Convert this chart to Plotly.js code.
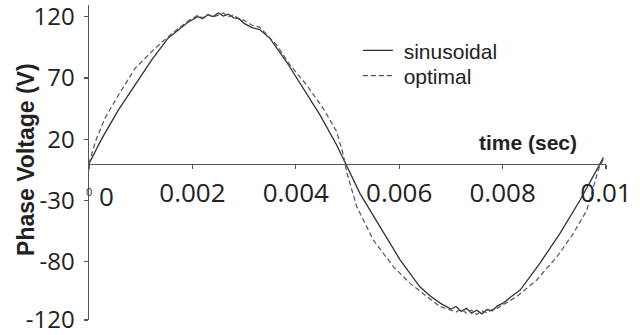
<!DOCTYPE html>
<html>
<head>
<meta charset="utf-8">
<script src="https://cdn.plot.ly/plotly-3.0.1.min.js"></script>
<style>
  html, body { margin: 0; padding: 0; background: #fff; }
  #chart { width: 640px; height: 335px; }
</style>
</head>
<body>
<div id="chart"></div>
<script>
// Sinusoidal reference waveform (time in s, voltage in V)
const timeSin = [0, 0.00025, 0.00057, 0.00089, 0.00121, 0.00153, 0.00175, 0.00190, 0.00200, 0.00210,
  0.00220, 0.00230, 0.00240, 0.00250, 0.00260, 0.00270, 0.00280, 0.00290, 0.00300, 0.00315,
  0.00330, 0.00350, 0.00382, 0.00415, 0.00447, 0.00479, 0.00497, 0.00524, 0.00563, 0.00602,
  0.00640, 0.00660, 0.00680, 0.00690, 0.00700, 0.00710, 0.00720, 0.00730, 0.00740, 0.00750,
  0.00760, 0.00770, 0.00780, 0.00790, 0.00800, 0.00815, 0.00834, 0.00872, 0.00911, 0.00950,
  0.00975, 0.00985, 0.00995];
const voltSin = [0, 20.7, 44.0, 64.2, 84.6, 102.4, 110, 115, 117.5, 120,
  118.5, 121.5, 120, 123, 120.5, 122, 119, 118.5, 114.5, 111,
  109.5, 102.3, 83.2, 61.5, 39.7, 15.3, 0, -24.2, -51.5, -78.6,
  -100.4, -108, -113.9, -116, -118.5, -116.5, -120.5, -118, -122, -119.5,
  -122.5, -119, -120, -116, -114, -109, -103.1, -81.3, -56.8, -29.6,
  -10.6, -2.4, 5];

// Optimal waveform
const timeOpt = [0, 0.00012, 0.00031, 0.00057, 0.00089, 0.00121, 0.00153, 0.00175, 0.00190, 0.00200,
  0.00210, 0.00220, 0.00230, 0.00240, 0.00250, 0.00260, 0.00270, 0.00280, 0.00290, 0.00300,
  0.00315, 0.00330, 0.00363, 0.00389, 0.00421, 0.00453, 0.00479, 0.00492, 0.00499, 0.00518,
  0.00550, 0.00589, 0.00621, 0.00653, 0.00679, 0.00690, 0.00700, 0.00710, 0.00720, 0.00730,
  0.00740, 0.00750, 0.00760, 0.00770, 0.00780, 0.00789, 0.00827, 0.00866, 0.00905, 0.00937,
  0.00963, 0.00975, 0.00985, 0.00995];
const voltOpt = [0, 17.7, 37.3, 56.0, 77.8, 91.4, 103.7, 111, 116, 118.5,
  121, 119, 122, 119.5, 121, 123, 120, 121.5, 118, 117,
  113, 111.5, 96.9, 80.5, 64.2, 45.2, 26.3, 7.1, -7.8, -35.1,
  -62.3, -84.1, -97.6, -108.5, -116.7, -118, -119.4, -121, -118.5, -122,
  -119.5, -123, -120, -121.5, -119, -118, -108.5, -94.9, -75.9, -56.8,
  -37.8, -19, -5.1, 4];

const yTickVals = [120, 70, 20, -30, -80, -127.5];
const yTickText = ['120', '70', '20', '-30', '-80', '-120'];
const xTickVals = [0, 0.002, 0.004, 0.006, 0.008, 0.01];
const xTickText = ['', '0.002', '0.004', '0.006', '0.008', '0.01'];

const yRange = [-127.5, 129.5];
const xRange = [0, 0.01];
const lineCol = '#333';
const axisCol = '#555';
const legFont = { family: 'Liberation Sans, Arial, sans-serif', size: 21, color: '#222' };

const traces = [
  { x: timeSin, y: voltSin, mode: 'lines', name: ' sinusoidal', legend: 'legend',
    line: { color: lineCol, width: 1.3 } },
  { x: timeOpt, y: voltOpt, mode: 'lines', name: ' optimal', legend: 'legend2',
    line: { color: '#555', width: 1.2, dash: '5px,3px' } }
];

const layout = {
  width: 640, height: 335,
  margin: { l: 89, r: 34, t: 5, b: 15 },
  paper_bgcolor: '#fff', plot_bgcolor: '#fff',
  showlegend: true,
  legend: { x: 0.52, y: 0.92, xanchor: 'left', yanchor: 'top', font: legFont,
    bgcolor: 'rgba(0,0,0,0)' },
  legend2: { x: 0.52, y: 0.84, xanchor: 'left', yanchor: 'top', font: legFont,
    bgcolor: 'rgba(0,0,0,0)' },
  xaxis: {
    range: xRange, anchor: 'free',
    position: (0 - yRange[0]) / (yRange[1] - yRange[0]),
    showgrid: false, zeroline: false, showline: true, linecolor: axisCol, linewidth: 1.5,
    ticks: 'outside', ticklen: 4, tickcolor: axisCol, tickwidth: 1.3,
    tickvals: xTickVals, ticktext: xTickText,
    tickfont: { family: 'Open Sans, sans-serif', size: 26, color: '#222' },
    ticklabelstandoff: 2, ticklabeloverflow: 'allow'
  },
  yaxis: {
    range: yRange, showgrid: false, zeroline: false, showline: true,
    linecolor: axisCol, linewidth: 1.5,
    ticks: 'outside', ticklen: 4, tickcolor: axisCol, tickwidth: 1.3,
    tickvals: yTickVals, ticktext: yTickText,
    tickfont: { family: 'Open Sans, sans-serif', size: 24, color: '#222' },
    ticklabelstandoff: 4, ticklabeloverflow: 'allow'
  },
  annotations: [
    { x: -0.122, y: 0.511, xref: 'paper', yref: 'paper', showarrow: false, textangle: -90,
      xanchor: 'center', yanchor: 'middle',
      text: '<b>Phase Voltage (V)</b>',
      font: { family: 'Liberation Sans, Arial, sans-serif', size: 23, color: '#222' } },
    { x: 0.0085, y: 0, xref: 'x', yref: 'y', yshift: 21, showarrow: false,
      text: '<b>time (sec)</b>',
      font: { family: 'Liberation Sans, Arial, sans-serif', size: 21, color: '#222' } },
    { x: 0, y: 0, xref: 'x', yref: 'y', xshift: 17, yshift: -32, showarrow: false,
      text: '0', font: { family: 'Open Sans, sans-serif', size: 26, color: '#222' } },
    { x: 0, y: 0, xref: 'x', yref: 'y', xshift: 0, yshift: -28, showarrow: false,
      text: '0', font: { family: 'Open Sans, sans-serif', size: 11, color: '#333' } }
  ]
};

Plotly.newPlot('chart', traces, layout, { staticPlot: true, displayModeBar: false });
</script>
</body>
</html>
